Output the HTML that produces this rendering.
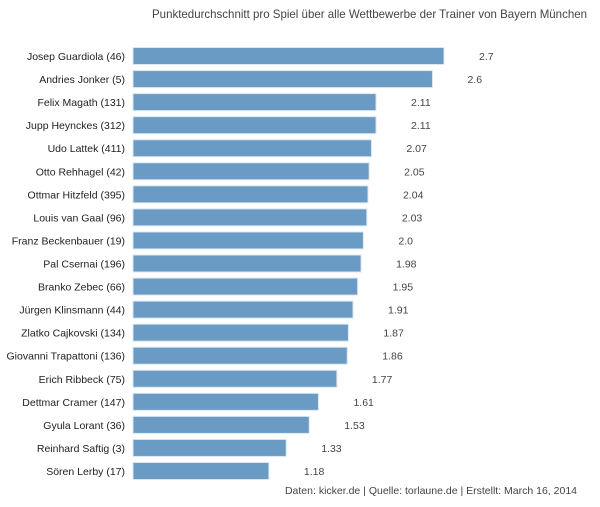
<!DOCTYPE html>
<html><head><meta charset="utf-8"><style>
body{margin:0;background:#fff;width:600px;height:502px;overflow:hidden;font-family:"Liberation Sans",sans-serif}
svg text{font-family:"Liberation Sans",sans-serif}
</style></head><body>
<svg id="chart" width="600" height="502">
<text x="587" y="18" text-anchor="end" font-size="12" textLength="435" lengthAdjust="spacingAndGlyphs" fill="#444">Punktedurchschnitt pro Spiel über alle Wettbewerbe der Trainer von Bayern München</text>
<text x="577" y="494" text-anchor="end" font-size="10.5" fill="#444">Daten: kicker.de | Quelle: torlaune.de | Erstellt: March 16, 2014</text>
<g id="bars"></g>
</svg>
<script>
const categories=["Josep Guardiola (46)","Andries Jonker (5)","Felix Magath (131)","Jupp Heynckes (312)","Udo Lattek (411)","Otto Rehhagel (42)","Ottmar Hitzfeld (395)","Louis van Gaal (96)","Franz Beckenbauer (19)","Pal Csernai (196)","Branko Zebec (66)","Jürgen Klinsmann (44)","Zlatko Cajkovski (134)","Giovanni Trapattoni (136)","Erich Ribbeck (75)","Dettmar Cramer (147)","Gyula Lorant (36)","Reinhard Saftig (3)","Sören Lerby (17)"];
const values=[2.7,2.6,2.11,2.11,2.07,2.05,2.04,2.03,2.0,1.98,1.95,1.91,1.87,1.86,1.77,1.61,1.53,1.33,1.18];
const labels=["2.7","2.6","2.11","2.11","2.07","2.05","2.04","2.03","2.0","1.98","1.95","1.91","1.87","1.86","1.77","1.61","1.53","1.33","1.18"];
const x0=133, pxPerUnit=(444-133)/2.7;
const xScale=v=>x0+v*pxPerUnit;
const yScale=i=>56+i*(471-56)/(categories.length-1);
const g=document.getElementById('bars');
const NS="http://www.w3.org/2000/svg";
categories.forEach((c,i)=>{
  const y=yScale(i);
  const r=document.createElementNS(NS,'rect');
  r.setAttribute('x',x0);r.setAttribute('y',y-8.5);
  r.setAttribute('width',xScale(values[i])-x0);r.setAttribute('height',17);
  r.setAttribute('fill','#6a9bc4');r.setAttribute('stroke','#dbe7f1');r.setAttribute('stroke-width','1');
  
  
  g.appendChild(r);
  const t=document.createElementNS(NS,'text');
  t.setAttribute('x',125);t.setAttribute('y',y+4);t.setAttribute('text-anchor','end');
  t.setAttribute('font-size','10.5');t.setAttribute('fill','#222');t.textContent=c;
  
  
  g.appendChild(t);
  const v=document.createElementNS(NS,'text');
  v.setAttribute('x',xScale(values[i])+35);v.setAttribute('y',y+4);
  v.setAttribute('font-size','10.5');v.setAttribute('fill','#444');v.textContent=labels[i];
  
  
  g.appendChild(v);
});
</script>
</body></html>
